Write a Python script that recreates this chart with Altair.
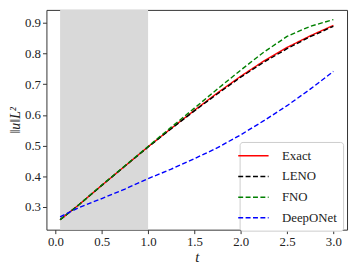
import altair as alt
import pandas as pd

t = [0.05, 0.25, 0.5, 0.75, 1.0, 1.25, 1.5, 1.75, 2.0, 2.25, 2.5, 2.75, 3.0]
exact = [0.258, 0.306, 0.370, 0.433, 0.496, 0.556, 0.615, 0.672, 0.726, 0.776, 0.820, 0.858, 0.892]
leno = [0.258, 0.306, 0.370, 0.433, 0.495, 0.555, 0.613, 0.669, 0.723, 0.772, 0.816, 0.855, 0.889]
fno = [0.258, 0.306, 0.371, 0.434, 0.497, 0.560, 0.622, 0.685, 0.746, 0.805, 0.856, 0.889, 0.911]
deeponet = [0.267, 0.297, 0.327, 0.358, 0.392, 0.423, 0.457, 0.493, 0.535, 0.581, 0.630, 0.684, 0.742]

series = ["Exact", "LENO", "FNO", "DeepONet"]
colors = ["#ff0000", "#000000", "#008000", "#0000ff"]
dashes = [[1, 0], [5, 2.5], [5, 2.5], [5, 2.5]]

span_start = [0.05]
span_end = [1.0]

x_ticks = [0.0, 0.5, 1.0, 1.5, 2.0, 2.5, 3.0]
y_ticks = [0.3, 0.4, 0.5, 0.6, 0.7, 0.8, 0.9]

rows = []
for name, vals in zip(series, [exact, leno, fno, deeponet]):
    for ti, v in zip(t, vals):
        rows.append({"t": ti, "v": v, "series": name})
df = pd.DataFrame(rows)
span_df = pd.DataFrame({"a": span_start, "b": span_end})

FONT = "Liberation Serif"
W, H = 305, 223

xscale = alt.Scale(domain=[-0.0975, 3.1475], nice=False, zero=False)
yscale = alt.Scale(domain=[0.2254, 0.9426], nice=False, zero=False)

xaxis = alt.Axis(values=x_ticks, format=".1f", title="t", titleFontStyle="italic",
                 titleFontWeight="normal", titleFontSize=15, titlePadding=1,
                 grid=False, domain=False, tickColor="#333", tickSize=4,
                 labelPadding=2, labelFontSize=13, labelColor="#222", titleColor="#222")
yaxis = alt.Axis(values=y_ticks, format=".1f", title="‖u‖L²", titleFontStyle="italic",
                 titleFontWeight="normal", titleFontSize=14, titlePadding=2,
                 grid=False, domain=False, tickColor="#333", tickSize=4,
                 labelPadding=2, labelFontSize=13, labelColor="#222", titleColor="#222")

span = alt.Chart(span_df).mark_rect(color="#d9d9d9").encode(
    x=alt.X("a:Q", scale=xscale, axis=xaxis),
    x2="b:Q",
)

color_enc = alt.Color("series:N", scale=alt.Scale(domain=series, range=colors),
                      legend=alt.Legend(title=None, orient="none", legendX=196, legendY=134,
                                        symbolType="M-2.2,0L2.2,0",
                                        symbolStrokeWidth=1.5,
                                        labelFontSize=13, labelColor="#222",
                                        fillColor="white", strokeColor="#ccc",
                                        cornerRadius=3, padding=6, rowPadding=6,
                                        labelOffset=21))
dash_enc = alt.StrokeDash("series:N", scale=alt.Scale(domain=series, range=dashes),
                          legend=None)

layers = [span]
for name in series:
    layers.append(
        alt.Chart(df).transform_filter(alt.datum.series == name).mark_line(strokeWidth=1.4).encode(
            x=alt.X("t:Q", scale=xscale, axis=xaxis),
            y=alt.Y("v:Q", scale=yscale, axis=yaxis),
            color=color_enc,
            strokeDash=dash_enc,
        )
    )

chart = alt.layer(*layers).properties(
    width=W, height=H,
    autosize=alt.AutoSizeParams(type="none"),
    padding={"left": 39, "top": 0, "right": 2, "bottom": 40},
    background="white",
).configure(font=FONT).configure_axis(labelFont=FONT, titleFont=FONT).configure_legend(
    labelFont=FONT, symbolSize=196
).configure_view(stroke="#333", strokeWidth=1)

chart.save("out.html", embed_options={"renderer": "svg", "actions": False})
